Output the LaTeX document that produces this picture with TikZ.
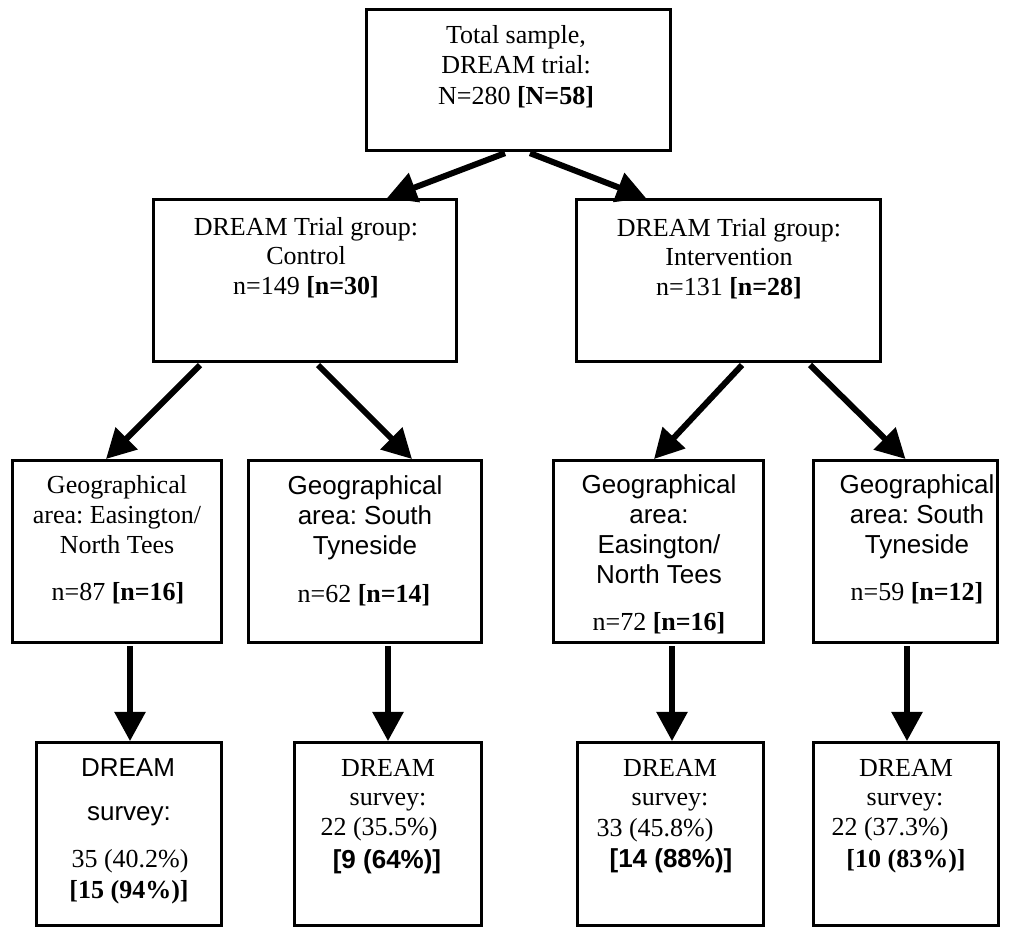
\documentclass[tikz,border=0pt]{standalone}
\usepackage{fontspec}
\setmainfont{Liberation Serif}
\newfontfamily\arial{Liberation Sans}
\usetikzlibrary{arrows.meta,calc}
\frenchspacing
\begin{document}
\begin{tikzpicture}[x=0.75pt,y=-0.75pt,
  box/.style={draw=black,line width=2.25pt,fill=white,inner sep=0pt},
  arr/.style={line width=4.5pt,-{Triangle[length=22pt,width=22.5pt]}},
  lbl/.style={anchor=base,inner sep=0pt,font=\fontsize{19.5}{23}\selectfont\frenchspacing},
  sans/.style={lbl,font=\fontsize{19.5}{23}\selectfont\arial\frenchspacing}]
\useasboundingbox (0,0) rectangle (1031,939);
\fill[white] (0,0) rectangle (1031,939);
% boxes
\node[box,minimum width=228pt,minimum height=106pt] (top) at (518,80) {};
\node[box,minimum width=227pt,minimum height=121.5pt] (ctrl) at (305,280.5) {};
\node[box,minimum width=228pt,minimum height=121.5pt] (int) at (728.5,280.5) {};
\node[box,minimum width=156.75pt,minimum height=136.5pt] (g1) at (117,551.5) {};
\node[box,minimum width=174.75pt,minimum height=136.5pt] (g2) at (365,551.5) {};
\node[box,minimum width=157.5pt,minimum height=136.5pt] (g3) at (658.5,551.5) {};
\node[box,minimum width=138pt,minimum height=136.5pt] (g4) at (905.5,551.5) {};
\node[box,minimum width=138.75pt,minimum height=137pt] (b1) at (129,834) {};
\node[box,minimum width=140pt,minimum height=137pt] (b2) at (388,834) {};
\node[box,minimum width=139.5pt,minimum height=137pt] (b3) at (670.5,834) {};
\node[box,minimum width=138.75pt,minimum height=137pt] (b4) at (906,834) {};
% texts
\node[lbl] (t1) at (516,43) {Total sample,};
\node[lbl] (t2) at (516,73) {DREAM trial:};
\node[lbl] (t3) at (516,104) {N=280 \textbf{[N=58]}};
\node[lbl] (c1) at (306,235) {DREAM Trial group:};
\node[lbl] (c2) at (306,264) {Control};
\node[lbl] (c3) at (306,294) {n=149 \textbf{[n=30]}};
\node[lbl] (i1) at (729,236) {DREAM Trial group:};
\node[lbl] (i2) at (729,265) {Intervention};
\node[lbl] (i3) at (729,295) {n=131 \textbf{[n=28]}};
\node[lbl] (ga1) at (117,493) {Geographical};
\node[lbl] (ga2) at (117,523) {area: Easington/};
\node[lbl] (ga3) at (117,553) {North Tees};
\node[lbl] (ga4) at (118,600) {n=87 \textbf{[n=16]}};
\node[sans] (gb1) at (365,494) {Geographical};
\node[sans] (gb2) at (365,524) {area: South};
\node[sans] (gb3) at (365,554) {Tyneside};
\node[lbl] (gb4) at (364,602) {n=62 \textbf{[n=14]}};
\node[sans] (gc1) at (659,493) {Geographical};
\node[sans] (gc2) at (659,523) {area:};
\node[sans] (gc3) at (659,553) {Easington/};
\node[sans] (gc4) at (659,583) {North Tees};
\node[lbl] (gc5) at (659,630) {n=72 \textbf{[n=16]}};
\node[sans] (gd1) at (917,493) {Geographical};
\node[sans] (gd2) at (917,523) {area: South};
\node[sans] (gd3) at (917,553) {Tyneside};
\node[lbl] (gd4) at (917,600) {n=59 \textbf{[n=12]}};
\node[sans] (ba1) at (128,776) {DREAM};
\node[sans] (ba2) at (129,820) {survey:};
\node[lbl] (ba3) at (130,867) {35 (40.2\%)};
\node[lbl] (ba4) at (129,898) {\textbf{[15 (94\%)]}};
\node[lbl] (bb1) at (388,776) {DREAM};
\node[lbl] (bb2) at (388,805) {survey:};
\node[lbl] (bb3) at (379,835) {22 (35.5\%)};
\node[sans] (bb4) at (387,868) {\textbf{[9 (64\%)]}};
\node[lbl] (bc1) at (670,776) {DREAM};
\node[lbl] (bc2) at (670,805) {survey:};
\node[lbl] (bc3) at (655,836) {33 (45.8\%)};
\node[sans] (bc4) at (671,867) {\textbf{[14 (88\%)]}};
\node[lbl] (bd1) at (906,776) {DREAM};
\node[lbl] (bd2) at (905,805) {survey:};
\node[lbl] (bd3) at (890,835) {22 (37.3\%)};
\node[lbl] (bd4) at (906,867) {\textbf{[10 (83\%)]}};
% arrows
\draw[arr] ($(top.south)+(-13,1)$) -- ($(ctrl.north)+(82,0)$);
\draw[arr] ($(top.south)+(12,1)$) -- ($(int.north)+(-82.5,0)$);
\draw[arr] ($(ctrl.south)+(-105,2)$) -- ($(g1.north)+(-11,0)$);
\draw[arr] ($(ctrl.south)+(13,2)$) -- ($(g2.north)+(47,0)$);
\draw[arr] ($(int.south)+(13.5,2)$) -- ($(g3.north)+(-4.5,0)$);
\draw[arr] ($(int.south)+(81.5,2)$) -- ($(g4.north)+(0,0)$);
\draw[arr] ($(g1.south)+(13,2)$) -- ($(b1.north)+(1,0)$);
\draw[arr] ($(g2.south)+(23,2)$) -- ($(b2.north)+(0,0)$);
\draw[arr] ($(g3.south)+(13.5,2)$) -- ($(b3.north)+(1.5,0)$);
\draw[arr] ($(g4.south)+(1.5,2)$) -- ($(b4.north)+(1,0)$);
\end{tikzpicture}
\end{document}
